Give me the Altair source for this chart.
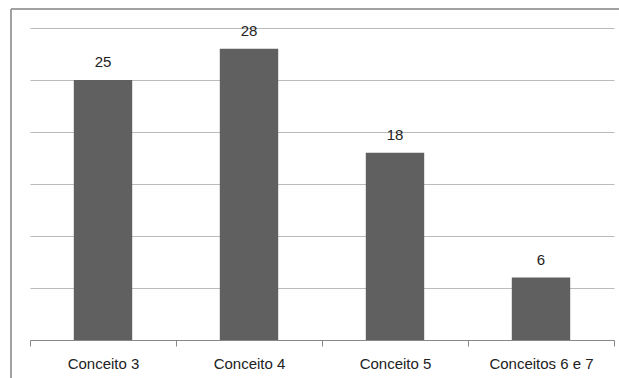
import altair as alt
import pandas as pd

categories = ["Conceito 3", "Conceito 4", "Conceito 5", "Conceitos 6 e 7"]
values = [25, 28, 18, 6]

df = pd.DataFrame({"cat": categories, "val": values})

FONT = "Liberation Sans"

x = alt.X("cat:N", sort=categories, title=None,
          scale=alt.Scale(paddingInner=0, paddingOuter=0),
          axis=alt.Axis(labelAngle=0, tickBand="extent", tickSize=6, tickColor="#888888",
                        domainColor="#888888", labelPadding=10, labelFont=FONT,
                        labelFontSize=15, labelColor="#222222", grid=False))
y = alt.Y("val:Q", title=None,
          scale=alt.Scale(domain=[0, 30], nice=False),
          axis=alt.Axis(values=[0, 5, 10, 15, 20, 25, 30], labels=False, ticks=False,
                        domain=False, gridColor="#BBBBBB", gridWidth=1))

base = alt.Chart(df)
bars = base.mark_bar(color="#606060", width=alt.RelativeBandSize(0.4)).encode(x=x, y=y)
text = base.mark_text(baseline="bottom", dy=-10, font=FONT, fontSize=15, color="#222222").encode(
    x=alt.X("cat:N", sort=categories), y="val:Q", text="val:Q")

frame_top = alt.Chart(df).mark_rule(color="#A0A0A0", strokeWidth=1.5).encode(
    x=alt.value(-19), x2=alt.value(600), y=alt.value(-19))
frame_left = alt.Chart(df).mark_rule(color="#A0A0A0", strokeWidth=1.5).encode(
    x=alt.value(-19), y=alt.value(-19), y2=alt.value(360))

chart = alt.layer(bars, text, frame_top, frame_left).properties(
    width=584, height=312,
    autosize=alt.AutoSizeParams(type="none"),
    padding={"left": 30, "top": 28, "right": 5, "bottom": 38},
    background="white",
).configure_view(stroke=None)

chart.save("out.html", embed_options={"renderer": "svg", "actions": False})
